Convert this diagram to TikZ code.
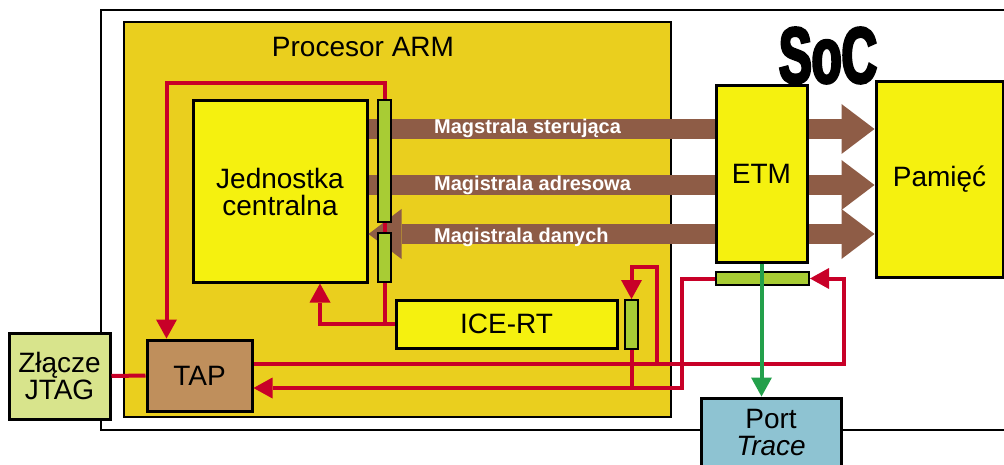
\documentclass[tikz,border=0pt]{standalone}
\usepackage{fontspec}
\setmainfont{Liberation Sans}
\newfontfamily\socfont{Liberation Sans Bold}[FakeStretch=0.62,FakeBold=3.5]
\usetikzlibrary{arrows.meta}
\definecolor{procY}{RGB}{234,207,30}
\definecolor{boxY}{RGB}{245,241,15}
\definecolor{barG}{RGB}{168,204,52}
\definecolor{busB}{RGB}{142,92,70}
\definecolor{sigR}{RGB}{200,0,40}
\definecolor{tapB}{RGB}{191,143,92}
\definecolor{jtagG}{RGB}{216,228,140}
\definecolor{portB}{RGB}{142,195,210}
\definecolor{grnA}{RGB}{35,160,75}
\tikzset{
  sigH/.tip={Triangle[width=21pt,length=19pt,line width=0pt]},
  busH/.tip={Triangle[width=50pt,length=33pt,line width=0pt]},
  box/.style={draw=black, line width=3pt, rectangle, inner sep=0pt,
    font=\fontsize{28}{27}\selectfont, align=center},
  barbox/.style={draw=black, line width=2pt, fill=barG, rectangle, inner sep=0pt},
  sig/.style={draw=sigR, line width=4pt},
  grn/.style={draw=grnA, line width=4pt},
  bus/.style={draw=busB, line width=20pt},
  buslabel/.style={text=white, font=\fontsize{20}{20}\bfseries\selectfont,
    anchor=base west, inner sep=0pt},
  txt/.style={font=\fontsize{28}{27}\selectfont, inner sep=0pt}
}
\begin{document}
\begin{tikzpicture}[x=1pt,y=-1pt]
\useasboundingbox (0,0) rectangle (1004,465);
% SoC outer frame
\draw[line width=2pt] (101,10) rectangle (1040,430);
% processor
\node[box, line width=2pt, fill=procY, minimum width=547pt, minimum height=395pt] (proc) at (397.5,219.5) {};
\node[txt] (procl) at (363,47) {Procesor ARM};
\node[box, fill=boxY, minimum width=174pt, minimum height=181pt] (cpu) at (280,191.5) {Jednostka\\centralna};
\node[box, fill=boxY, minimum width=127pt, minimum height=195pt] (mem) at (939.5,179.5) {Pamięć};
% bus levels
\coordinate (yc) at (0,129);
\coordinate (ya) at (0,185);
\coordinate (yd) at (0,234);
% buses
\draw[bus,-{busH}] (cpu.east |- yc) -- (mem.west |- yc);
\draw[bus,-{busH}] (cpu.east |- ya) -- (mem.west |- ya);
\draw[bus,{busH}-{busH}] (cpu.east |- yd) -- (mem.west |- yd);
\node[buslabel] (lc) at (434,134) {Magstrala sterująca};
\node[buslabel] (la) at (434,191) {Magistrala adresowa};
\node[buslabel] (ld) at (434,243) {Magistrala danych};
% other blocks
\node[barbox, minimum width=13pt, minimum height=122pt] (bar1) at (384.5,161) {};
\node[barbox, minimum width=13pt, minimum height=49pt] (bar2) at (384.5,257.5) {};
\node[box, fill=boxY, minimum width=221pt, minimum height=48pt] (ice) at (506.5,324) {ICE-RT};
\node[barbox, minimum width=13pt, minimum height=49pt] (bar3) at (631.5,324.5) {};
\node[box, fill=tapB, minimum width=105pt, minimum height=71pt] (tap) at (199.5,375.5) {TAP};
\node[box, fill=jtagG, minimum width=101pt, minimum height=86pt] (jtag) at (59.5,376) {Złącze\\JTAG};
\node[box, fill=boxY, minimum width=91pt, minimum height=176pt] (etm) at (761.5,174) {ETM};
\node[barbox, minimum width=93pt, minimum height=13pt] (etmbar) at (762.5,278.5) {};
\node[box, fill=portB, minimum width=140pt, minimum height=69pt] (port) at (771,432.5) {Port\\\textit{Trace}};
\node[inner sep=0pt] (soc) at (828,55.5) {\socfont\fontsize{79}{79}\selectfont SoC};
% junction points
\coordinate (tapin) at ([xshift=21pt]tap.north west);
\coordinate (cpuin) at ([xshift=40pt]cpu.south);
\coordinate (tu) at ([yshift=11.5pt]tap.east);
\coordinate (tl) at ([yshift=-12.5pt]tap.east);
\coordinate (br) at (657,364);
% red signals
\draw[sig,-{sigH}] (bar1.north) -- ++(0,-16) -| (tapin);
\draw[sig] (bar1.south) -- (bar2.north);
\draw[sig] (bar2.south) |- (ice.west);
\draw[sig,-{sigH}] (ice.west) -| (cpuin);
\draw[sig,-{sigH}] (tu) -| ([xshift=34pt]etmbar.east) -- (etmbar.east);
\draw[sig,-{sigH}] (br) |- ([yshift=32pt]bar3.north) -- (bar3.north);
\draw[sig,-{sigH}] (etmbar.west) -- ++(-33,0) |- (tl);
\draw[sig] (bar3.south) -- (bar3.south |- tl);
\draw[sig] (jtag.east) -- (tap.west);
% trace output
\draw[grn,-{sigH}] (etm.south) -- (etm.south |- port.north);
\end{tikzpicture}
\end{document}
